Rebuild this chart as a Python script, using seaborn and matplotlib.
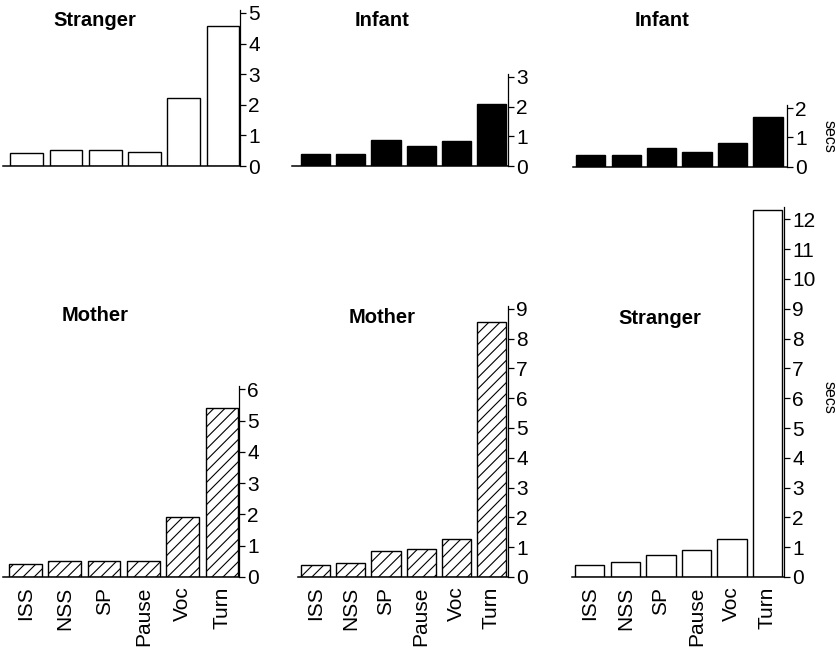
import matplotlib
matplotlib.use("Agg")
import matplotlib.pyplot as plt
import seaborn as sns
import numpy as np

sns.set_style("white")
plt.rcParams['font.family'] = ['Liberation Sans', 'DejaVu Sans']
plt.rcParams['hatch.linewidth'] = 0.8
plt.rcParams['text.color'] = 'black'
plt.rcParams['xtick.color'] = 'black'
plt.rcParams['ytick.color'] = 'black'

categories = ["ISS", "NSS", "SP", "Pause", "Voc", "Turn"]
stranger_top = [0.44, 0.51, 0.51, 0.46, 2.23, 4.57]
infant_mid = [0.40, 0.42, 0.86, 0.66, 0.85, 2.10]
infant_right = [0.40, 0.42, 0.66, 0.52, 0.83, 1.68]
mother_left = [0.43, 0.51, 0.51, 0.51, 1.92, 5.39]
mother_mid = [0.39, 0.48, 0.87, 0.95, 1.27, 8.55]
stranger_bottom = [0.39, 0.50, 0.73, 0.90, 1.29, 12.3]

titles = ["Stranger", "Infant", "Infant", "Mother", "Mother", "Stranger"]
series = [stranger_top, infant_mid, infant_right, mother_left, mother_mid, stranger_bottom]
yticks_max = [5, 3, 2, 6, 9, 12]

W, H = 837, 648
fig = plt.figure(figsize=(W / 100, H / 100), dpi=100)

# layout: (left px, right px, baseline px, px per unit, ylim top, xlim, fill, hatch, show labels)
layout = [
    (3, 240, 166, 30.6, 5.1, (-0.6, 5.43), "white", None, False),
    (292, 508, 166, 29.7, 3.1, (-0.67, 5.47), "black", None, False),
    (573, 787, 167, 29.5, 2.1, (-0.5, 5.53), "black", None, False),
    (3, 239, 577, 31.3, 6.1, (-0.57, 5.43), "white", "///", True),
    (298, 508, 577, 29.8, 9.1, (-0.5, 5.47), "white", "///", True),
    (572, 784, 577, 29.8, 12.4, (-0.5, 5.47), "white", None, True),
]
title_pos = [(95, 21), (382, 21), (662, 21), (95, 315), (382, 317), (660, 318)]

for i, (L, R, y0, ppu, ytop, xl, fill, hatch, labels) in enumerate(layout):
    top_px = y0 - ytop * ppu
    ax = fig.add_axes([L / W, 1 - y0 / H, (R - L) / W, (y0 - top_px) / H])
    sns.barplot(x=categories, y=series[i], ax=ax, color=fill, edgecolor="black",
                linewidth=1.0, width=0.83, saturation=1)
    if hatch:
        for p in ax.patches:
            p.set_hatch(hatch)
    ax.set_xlim(*xl)
    ax.set_ylim(0, ytop)
    ax.set_yticks(range(0, yticks_max[i] + 1))
    ax.yaxis.tick_right()
    ax.tick_params(axis="y", direction="out", length=4, width=0.9, pad=2,
                   labelsize=15, colors="black")
    for s in ["left", "top"]:
        ax.spines[s].set_visible(False)
    ax.spines["right"].set_linewidth(0.9)
    ax.spines["bottom"].set_linewidth(1.1)
    ax.spines["right"].set_color("black")
    ax.spines["bottom"].set_color("black")
    ax.set_xlabel("")
    ax.set_ylabel("")
    ax.set_facecolor("none")
    if labels:
        ax.tick_params(axis="x", length=0, pad=7, labelsize=15, labelrotation=90)
    else:
        ax.tick_params(axis="x", length=0, labelbottom=False)
    tx, ty = title_pos[i]
    fig.text(tx / W, 1 - ty / H, titles[i], ha="center", va="center",
             fontsize=14.5, fontweight="bold")

fig.text(829 / W, 1 - 136 / H, "secs", rotation=270, ha="center", va="center", fontsize=11.5)
fig.text(829 / W, 1 - 397 / H, "secs", rotation=270, ha="center", va="center", fontsize=11.5)

fig.savefig("out.png", dpi=100, facecolor="white")
